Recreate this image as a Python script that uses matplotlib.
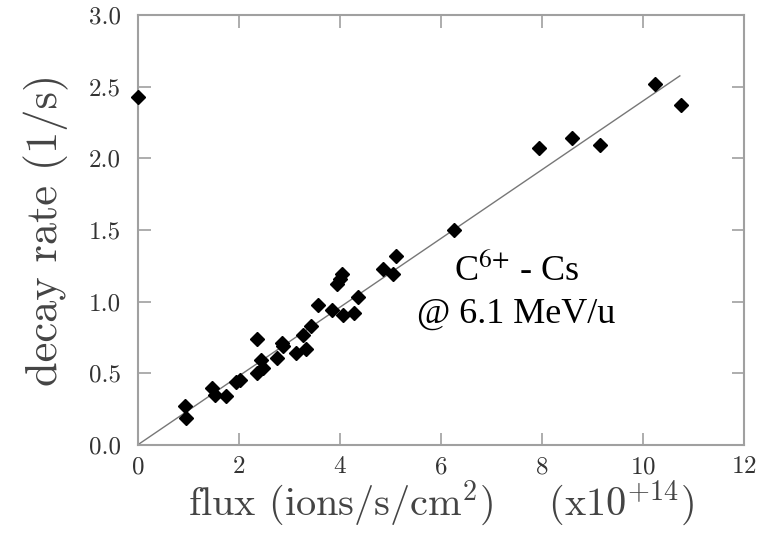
import numpy as np
import matplotlib.pyplot as plt

# measured decay rates vs. beam flux
flux = [0.0, 0.94, 0.96, 1.47, 1.53, 1.76, 1.95, 2.03, 2.36, 2.36, 2.45, 2.49,
        2.75, 2.85, 2.88, 3.13, 3.28, 3.33, 3.44, 3.57, 3.84, 3.94, 4.00, 4.05,
        4.07, 4.28, 4.36, 4.86, 5.06, 5.11, 6.27, 7.94, 8.60, 9.15, 10.23, 10.75]
rate = [2.43, 0.27, 0.19, 0.40, 0.35, 0.34, 0.44, 0.45, 0.74, 0.50, 0.59, 0.535,
        0.61, 0.71, 0.69, 0.64, 0.77, 0.67, 0.83, 0.98, 0.94, 1.12, 1.16, 1.19,
        0.91, 0.92, 1.03, 1.23, 1.19, 1.32, 1.50, 2.07, 2.14, 2.09, 2.52, 2.37]

# linear fit through origin
fit_x = [0.0, 10.73]
fit_slope = 0.24

plt.rcParams['font.family'] = 'cmr10'
plt.rcParams['axes.formatter.use_mathtext'] = True
plt.rcParams['mathtext.fontset'] = 'cm'

fig = plt.figure(figsize=(7.73, 5.33), dpi=100)
ax = fig.add_axes([0.1779, 0.1651, 0.7846, 0.8068])

ax.plot(fit_x, [fit_slope * v for v in fit_x], color='#777777', lw=1.0)
ax.plot(flux, rate, 'D', color='black', ms=7.5, clip_on=False, zorder=5)

ax.set_xlim(0, 12)
ax.set_ylim(0, 3.0)
ax.set_xticks(np.arange(0, 13, 2))
ax.set_yticks(np.arange(0, 3.01, 0.5))
ax.set_yticklabels(['%.1f' % v for v in np.arange(0, 3.01, 0.5)])

for s in ax.spines.values():
    s.set_color('#a0a0a0')
    s.set_linewidth(1.5)
ax.tick_params(direction='in', top=True, right=True, length=9, width=1.2,
               color='#a0a0a0', labelsize=18, labelcolor='#333333')
ax.tick_params(axis='y', pad=12)
ax.tick_params(axis='x', pad=8)

ax.set_ylabel('decay rate (1/s)', fontsize=32, color='#444444', labelpad=14)
ax.set_xlabel(r'flux (ions/s/cm$^2$)    (x10$^{+14}$)', fontsize=29,
              color='#444444', labelpad=0)

ax.text(7.5, 1.22, r'C$^{\text{6+}}$ - Cs', fontsize=26, family='Liberation Serif',
        math_fontfamily='stix', ha='center', va='center')
ax.text(7.5, 0.91, '@ 6.1 MeV/u', fontsize=26, family='Liberation Serif',
        ha='center', va='center')

fig.savefig('out.png', dpi=100)
